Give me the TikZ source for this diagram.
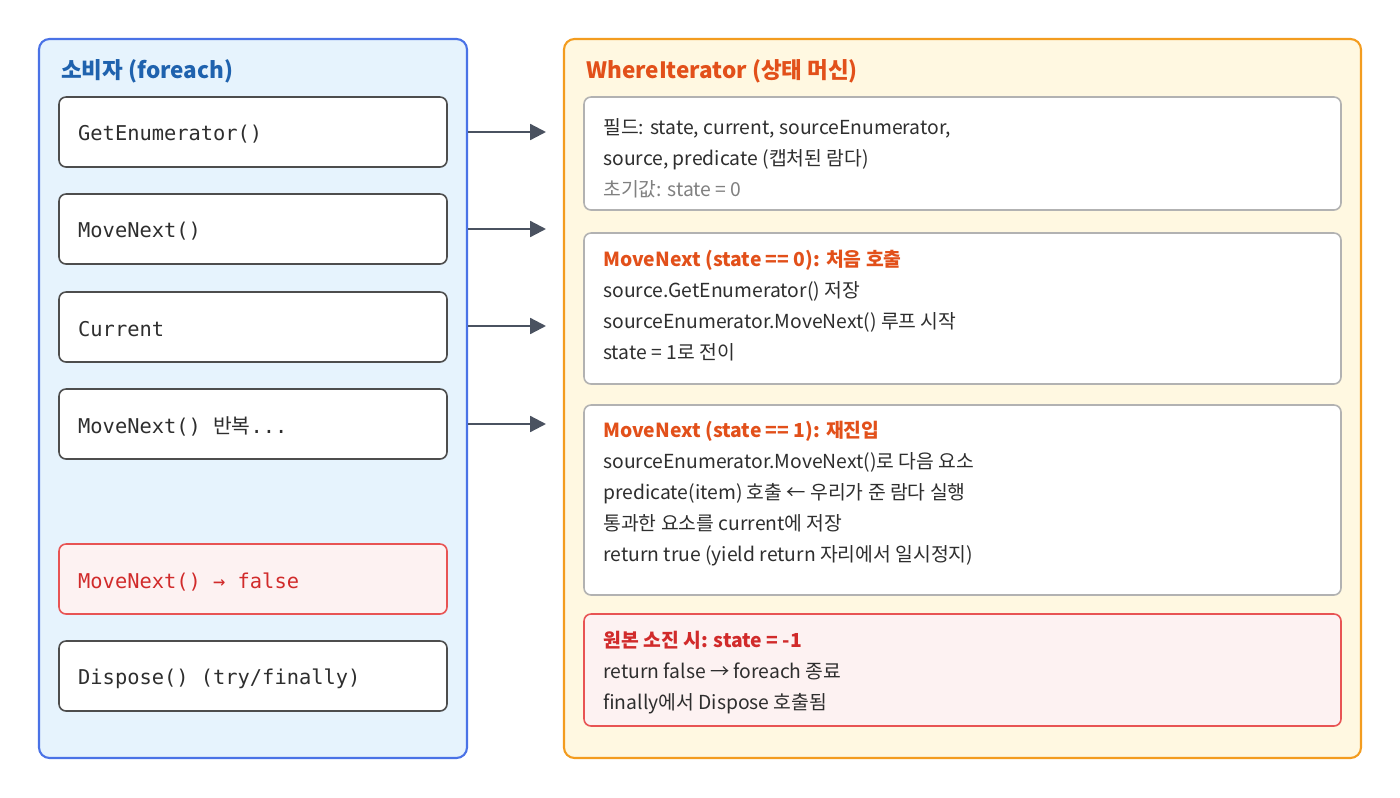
\documentclass[tikz,border=0pt]{standalone}
\usepackage{fontspec}
\setmainfont{Noto Sans CJK KR}
\setmonofont{DejaVu Sans Mono}
\newfontfamily\kr{Noto Sans CJK KR}
\usetikzlibrary{arrows.meta}
\definecolor{panelblue}{HTML}{E6F3FD}
\definecolor{edgeblue}{HTML}{4A72E6}
\definecolor{titleblue}{HTML}{1F62AE}
\definecolor{panelorange}{HTML}{FFF8E1}
\definecolor{edgeorange}{HTML}{F39C1F}
\definecolor{titleorange}{HTML}{E2501A}
\definecolor{softred}{HTML}{FDF2F2}
\definecolor{edgered}{HTML}{E85454}
\definecolor{textred}{HTML}{D12B2B}
\definecolor{arrowgray}{HTML}{4A5260}
\definecolor{textgray}{HTML}{2E2E2E}
\tikzset{
  panel/.style={rounded corners=6pt, line width=1.2pt},
  callbox/.style={draw=textgray!85, fill=white, rounded corners=4pt, line width=0.9pt},
  statebox/.style={draw=black!30, fill=white, rounded corners=4pt, line width=0.9pt},
  monotext/.style={anchor=west, font=\ttfamily\fontsize{11.6}{13}\selectfont, text=textgray},
  bodytext/.style={anchor=north west, align=left, font=\fontsize{11}{17.6}\selectfont, text=textgray, inner sep=0pt},
  calls/.style={-{Triangle[length=9pt,width=9pt]}, line width=1.3pt, draw=arrowgray}
}
\begin{document}
\begin{tikzpicture}[x=0.02cm,y=-0.02cm]
\useasboundingbox (0,0) rectangle (1400,798);

%%%%% CONSUMER %%%%%
\draw[panel, draw=edgeblue, fill=panelblue] (39,39) rectangle (467,758);
\node[anchor=west, font=\bfseries\fontsize{12.8}{15}\selectfont, text=titleblue] (ctitle) at (55,71) {소비자 (foreach)};

\draw[callbox] (59,97) rectangle (447,167);
\node[monotext] (getenum) at (72,134) {GetEnumerator()};
\draw[callbox] (59,194) rectangle (447,264);
\node[monotext] (move1) at (72,231) {MoveNext()};
\draw[callbox] (59,292) rectangle (447,362);
\node[monotext] (current) at (72,329) {Current};
\draw[callbox] (59,389) rectangle (447,459);
\node[monotext] (move2) at (72,426) {MoveNext() {\kr 반복}...};
\draw[callbox, draw=edgered, fill=softred] (59,544) rectangle (447,614);
\node[monotext, text=textred] (movefalse) at (72,582) {MoveNext() → false};
\draw[callbox] (59,641) rectangle (447,711);
\node[monotext] (dispose) at (72,679) {Dispose() (try/finally)};

%%%%% STATE MACHINE %%%%%
\draw[panel, draw=edgeorange, fill=panelorange] (564,39) rectangle (1361,758);
\node[anchor=west, font=\bfseries\fontsize{12.8}{15}\selectfont, text=titleorange] (stitle) at (580,71) {WhereIterator (상태 머신)};

\draw[statebox] (584,97) rectangle (1341,210);
\node[bodytext] (fields) at (603,118) {필드: state, current, sourceEnumerator,\\source, predicate (캡처된 람다)\\\textcolor{black!50}{초기값: state = 0}};

\draw[statebox] (584,233) rectangle (1341,384);
\node[bodytext] (first) at (603,250) {\textcolor{titleorange}{\bfseries MoveNext (state == 0): 처음 호출}\\source.GetEnumerator() 저장\\sourceEnumerator.MoveNext() 루프 시작\\state = 1로 전이};

\draw[statebox] (584,405) rectangle (1341,595);
\node[bodytext] (reenter) at (603,421) {\textcolor{titleorange}{\bfseries MoveNext (state == 1): 재진입}\\sourceEnumerator.MoveNext()로 다음 요소\\predicate(item) 호출 ← 우리가 준 람다 실행\\통과한 요소를 current에 저장\\return true (yield return 자리에서 일시정지)};

\draw[statebox, draw=edgered, fill=softred] (584,614) rectangle (1341,726);
\node[bodytext] (done) at (603,631) {\textcolor{textred}{\bfseries 원본 소진 시: state = -1}\\return false → foreach 종료\\finally에서 Dispose 호출됨};

%%%%% CALLS %%%%%
\foreach \y/\n in {132/a,229/b,326/c,424/d}{
  \coordinate (from\n) at (468,\y);
  \coordinate (to\n) at (546,\y);
  \draw[calls] (from\n) -- (to\n);
}
\end{tikzpicture}
\end{document}
